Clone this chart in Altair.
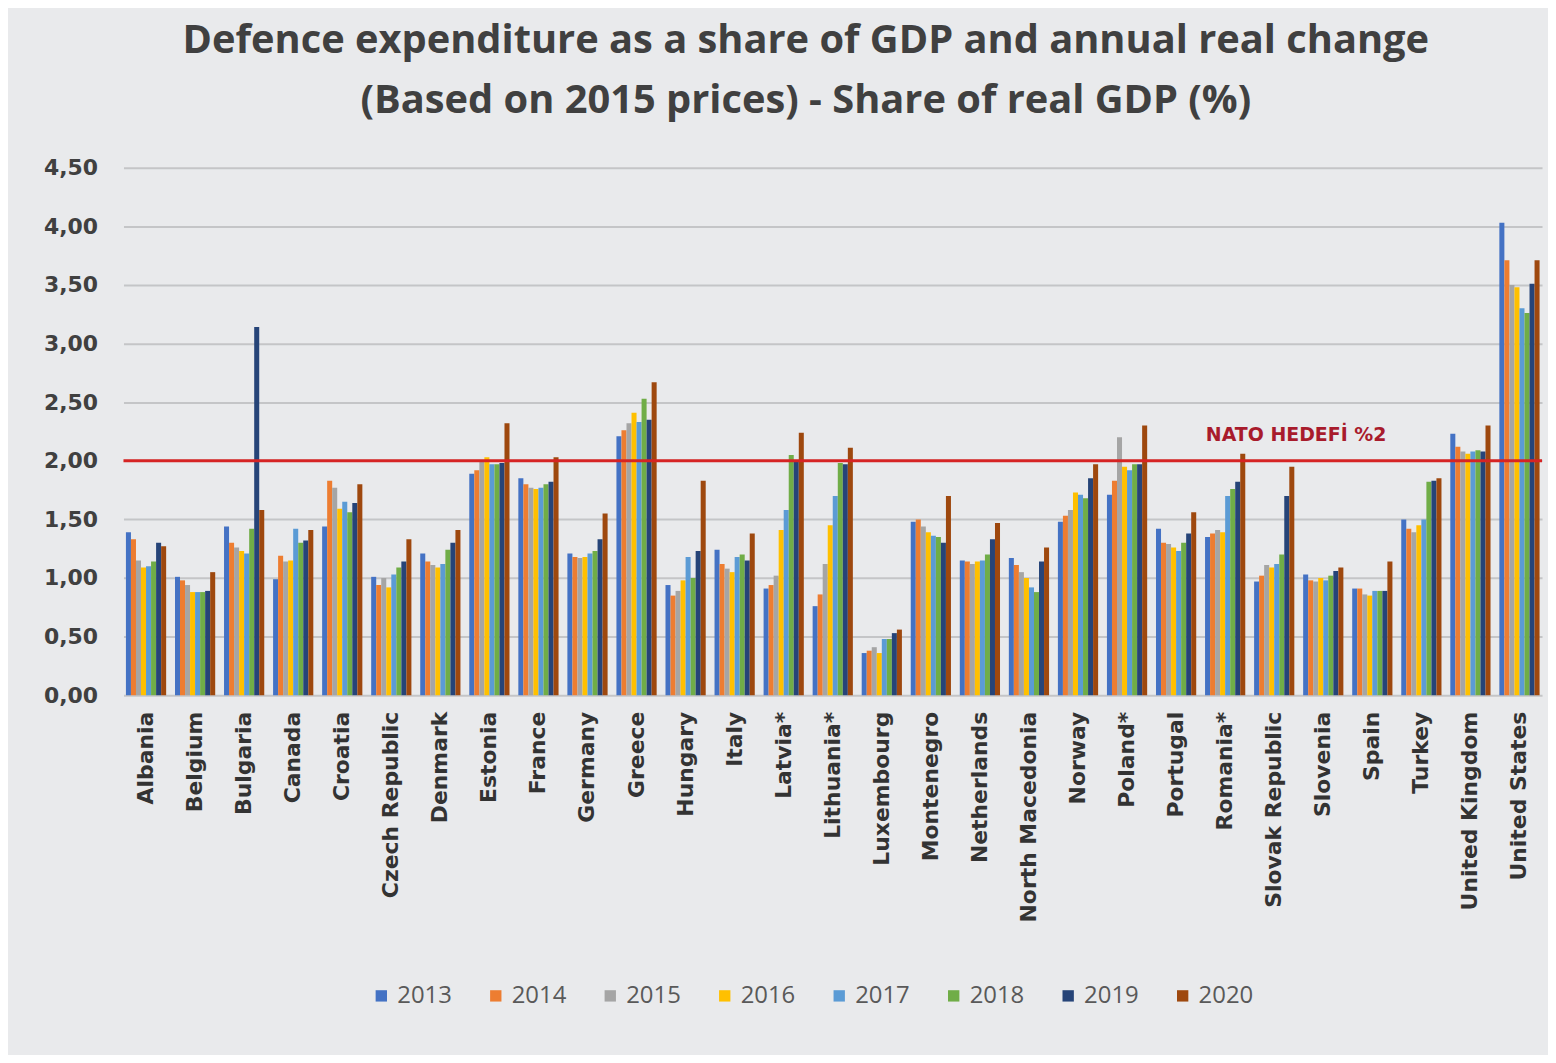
import altair as alt
import pandas as pd

countries = ["Albania", "Belgium", "Bulgaria", "Canada", "Croatia", "Czech Republic", "Denmark",
             "Estonia", "France", "Germany", "Greece", "Hungary", "Italy", "Latvia*", "Lithuania*",
             "Luxembourg", "Montenegro", "Netherlands", "North Macedonia", "Norway", "Poland*",
             "Portugal", "Romania*", "Slovak Republic", "Slovenia", "Spain", "Turkey",
             "United Kingdom", "United States"]
years = ["2013", "2014", "2015", "2016", "2017", "2018", "2019", "2020"]

v2013 = [1.39, 1.01, 1.44, 0.99, 1.44, 1.01, 1.21, 1.89, 1.85, 1.21, 2.21, 0.94, 1.24, 0.91, 0.76,
         0.36, 1.48, 1.15, 1.17, 1.48, 1.71, 1.42, 1.35, 0.97, 1.03, 0.91, 1.50, 2.23, 4.03]
v2014 = [1.33, 0.98, 1.30, 1.19, 1.83, 0.94, 1.14, 1.92, 1.80, 1.18, 2.26, 0.85, 1.12, 0.94, 0.86,
         0.38, 1.50, 1.14, 1.11, 1.53, 1.83, 1.30, 1.38, 1.02, 0.98, 0.91, 1.42, 2.12, 3.71]
v2015 = [1.15, 0.94, 1.26, 1.14, 1.77, 1.00, 1.11, 2.00, 1.77, 1.17, 2.32, 0.89, 1.08, 1.02, 1.12,
         0.41, 1.44, 1.12, 1.05, 1.58, 2.20, 1.29, 1.41, 1.11, 0.97, 0.86, 1.39, 2.08, 3.50]
v2016 = [1.09, 0.88, 1.23, 1.15, 1.59, 0.92, 1.09, 2.03, 1.76, 1.18, 2.41, 0.98, 1.05, 1.41, 1.45,
         0.36, 1.39, 1.14, 1.00, 1.73, 1.95, 1.26, 1.39, 1.09, 1.00, 0.85, 1.45, 2.06, 3.48]
v2017 = [1.10, 0.88, 1.21, 1.42, 1.65, 1.03, 1.12, 1.97, 1.77, 1.21, 2.33, 1.18, 1.18, 1.58, 1.70,
         0.48, 1.36, 1.15, 0.92, 1.71, 1.92, 1.23, 1.70, 1.12, 0.98, 0.89, 1.50, 2.08, 3.30]
v2018 = [1.14, 0.88, 1.42, 1.30, 1.56, 1.09, 1.24, 1.97, 1.80, 1.23, 2.53, 1.00, 1.20, 2.05, 1.98,
         0.48, 1.35, 1.20, 0.88, 1.68, 1.97, 1.30, 1.76, 1.20, 1.02, 0.89, 1.82, 2.09, 3.26]
v2019 = [1.30, 0.89, 3.14, 1.32, 1.64, 1.14, 1.30, 1.98, 1.82, 1.33, 2.35, 1.23, 1.15, 2.00, 1.97,
         0.53, 1.30, 1.33, 1.14, 1.85, 1.97, 1.38, 1.82, 1.70, 1.06, 0.89, 1.83, 2.08, 3.51]
v2020 = [1.27, 1.05, 1.58, 1.41, 1.80, 1.33, 1.41, 2.32, 2.03, 1.55, 2.67, 1.83, 1.38, 2.24, 2.11,
         0.56, 1.70, 1.47, 1.26, 1.97, 2.30, 1.56, 2.06, 1.95, 1.09, 1.14, 1.85, 2.30, 3.71]

colors = ["#4472C4", "#ED7D31", "#A5A5A5", "#FFC000", "#5B9BD5", "#70AD47", "#264478", "#9E480E"]
target = 2.0
target_label = "NATO HEDEFİ %2"
title_lines = ["Defence expenditure as a share of GDP and annual real change",
               "(Based on 2015 prices) - Share of real GDP (%)"]

series = [v2013, v2014, v2015, v2016, v2017, v2018, v2019, v2020]
rows = []
for yr, vals in zip(years, series):
    for c, v in zip(countries, vals):
        rows.append({"country": c, "year": yr, "value": v})
df = pd.DataFrame(rows)

FONT = "Open Sans"
WIDE = "DejaVu Sans"

bars = alt.Chart(df).mark_bar().encode(
    x=alt.X("country:N", sort=countries, title=None,
            scale=alt.Scale(paddingInner=0.18, paddingOuter=0.05),
            axis=alt.Axis(labelAngle=-90, labelFontSize=22, labelFontWeight="bold",
                          labelColor="#333333", labelFont=WIDE, ticks=False, domain=False,
                          labelPadding=16, labelLimit=400)),
    xOffset=alt.XOffset("year:N", sort=years),
    y=alt.Y("value:Q", title=None,
            scale=alt.Scale(domain=[0, 4.5], nice=False),
            axis=alt.Axis(values=[0, 0.5, 1, 1.5, 2, 2.5, 3, 3.5, 4, 4.5],
                          labelExpr="replace(format(datum.value, '.2f'), '.', ',')",
                          labelFontSize=22, labelFontWeight="bold", labelColor="#404040",
                          labelFont=WIDE, ticks=False, domain=False, labelPadding=26,
                          gridColor="#c4c5c7", gridWidth=2)),
    color=alt.Color("year:N", sort=years,
                    scale=alt.Scale(domain=years, range=colors),
                    legend=alt.Legend(title=None, orient="none", direction="horizontal",
                                      legendX=247, legendY=820, symbolType="square",
                                      symbolSize=130, symbolStrokeWidth=0,
                                      labelFontSize=24, labelColor="#595959", labelFont=FONT,
                                      columnPadding=32, columns=8)),
)

rule_df = pd.DataFrame({"y": [target]})
rule = alt.Chart(rule_df).mark_rule(color="#d62424", strokeWidth=3).encode(y="y:Q")

txt_df = pd.DataFrame({"country": ["Slovak Republic"], "y": [2.22], "label": [target_label]})
txt = alt.Chart(txt_df).mark_text(color="#a81b2c", fontSize=19, fontWeight="bold",
                                  font=WIDE, dx=22).encode(
    x=alt.X("country:N", sort=countries), y="y:Q", text="label:N")

chart = alt.layer(bars, rule, txt).properties(
    width=1425, height=530,
    title=alt.TitleParams(title_lines, fontSize=40, font=FONT, fontWeight="bold",
                          color="#404040", anchor="middle", lineHeight=60, offset=36, dx=-27),
    padding={"left": 35, "top": 11, "right": 4, "bottom": 45},
).configure(background="#e9eaec").configure_view(stroke=None)

chart.save("out.html", embed_options={"renderer": "svg", "actions": False})
